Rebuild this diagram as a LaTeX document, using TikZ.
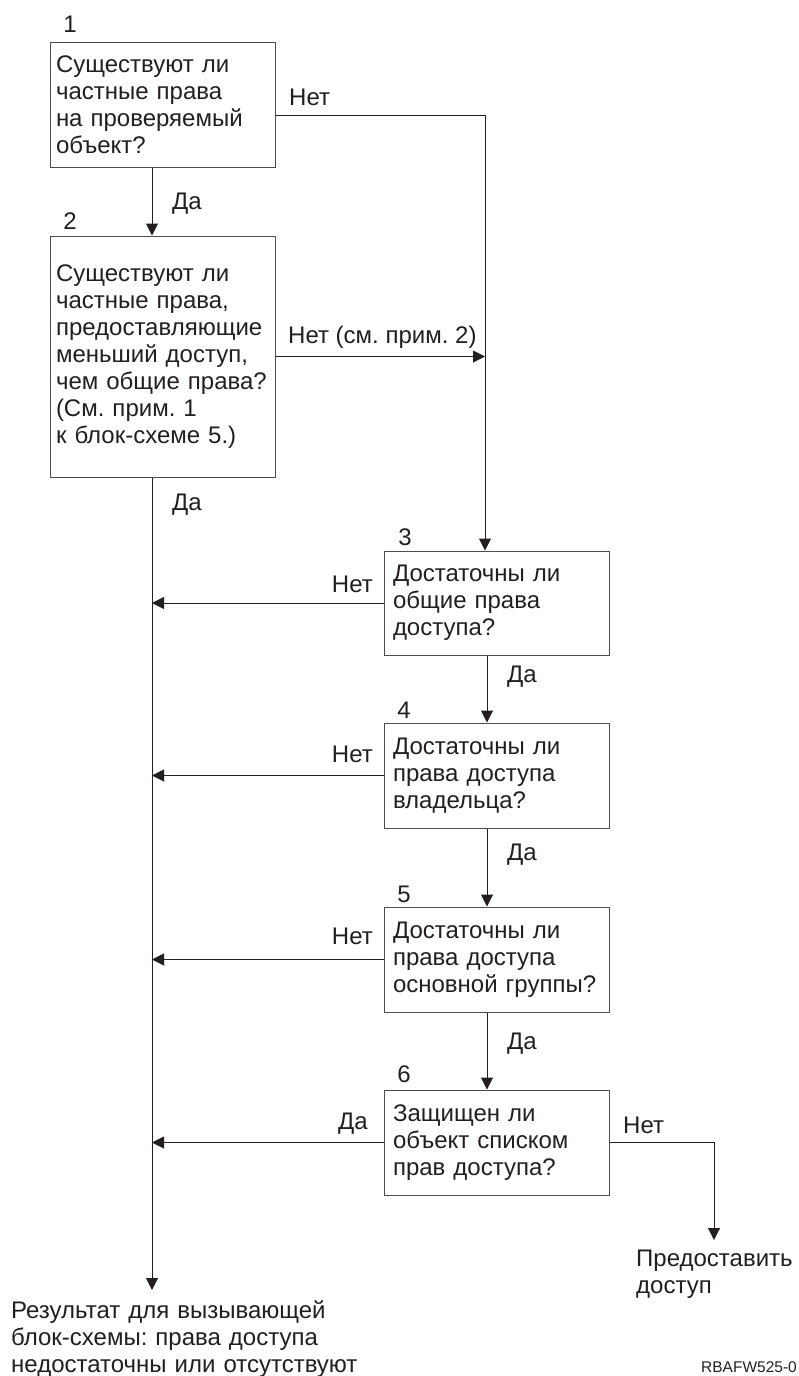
\documentclass[tikz,border=0pt]{standalone}
\usepackage{fontspec}
\setmainfont{Liberation Sans}
\usetikzlibrary{arrows.meta}
\definecolor{ink}{RGB}{35,31,32}
\frenchspacing
\begin{document}
\begin{tikzpicture}[x=1pt,y=-1pt,
  every node/.style={text=ink},
  txt/.style={font=\frenchspacing\fontsize{24}{27}\selectfont},
  box/.style={draw=ink!80, line width=1pt, rectangle, txt, align=left,
    inner ysep=0pt, inner xsep=6pt, minimum width=225pt, text width=213pt},
  boxb/.style={box, inner xsep=9pt, text width=207pt},
  lbl/.style={txt, inner sep=0pt},
  ln/.style={draw=ink, line width=1pt},
  arr/.style={ln, -{Triangle[length=12pt,width=12pt]}}]
\fill[white] (0,0) rectangle (799,1376);
\useasboundingbox (0,0) rectangle (799,1376);

% boxes
\node[box, minimum height=125pt] (b1) at (162.5,104.5) {Существуют~ли\\частные~права\\на~проверяемый\\объект?};
\node[box, minimum height=241pt] (b2) at (162.5,356.5) {Существуют~ли\\частные~права,\\предоставляющие\\меньший~доступ,\\чем~общие~права?\\(См.~прим.~1\\к~блок-схеме~5.)};
\node[boxb, minimum height=104pt] (b3) at (496.5,603) {Достаточны~ли\\общие~права\\доступа?};
\node[boxb, minimum height=105pt] (b4) at (496.5,775.5) {Достаточны~ли\\права~доступа\\владельца?};
\node[boxb, minimum height=105pt] (b5) at (496.5,959.5) {Достаточны~ли\\права~доступа\\основной~группы?};
\node[boxb, minimum height=105pt] (b6) at (496.5,1142.5) {Защищен~ли\\объект~списком\\прав~доступа?};

% helper coordinates
\coordinate (mx) at (152,0);
\coordinate (rx) at (485,115);
\coordinate (cx) at (487,0);
\coordinate (endL) at (152,1290);
\coordinate (g) at (714,1240);

% connectors
\draw[arr] (b1.south -| mx) -- (b2.north -| mx);
\draw[arr] (b1.east |- rx) -- (rx) -- (b3.north -| rx);
\draw[arr] (b2.east) -- (b2.east -| rx);
\draw[arr] (b2.south -| mx) -- (endL);
\draw[arr] (b3.west) -- (b3.west -| mx);
\draw[arr] (b4.west) -- (b4.west -| mx);
\draw[arr] (b5.west) -- (b5.west -| mx);
\draw[arr] (b6.west) -- (b6.west -| mx);
\draw[arr] (b3.south -| cx) -- (b4.north -| cx);
\draw[arr] (b4.south -| cx) -- (b5.north -| cx);
\draw[arr] (b5.south -| cx) -- (b6.north -| cx);
\draw[arr] (b6.east) -- (b6.east -| g) -- (g);

% step numbers
\node[lbl] (n1) at (70,24) {1};
\node[lbl] (n2) at (70,221) {2};
\node[lbl] (n3) at (405,537) {3};
\node[lbl] (n4) at (404,710) {4};
\node[lbl] (n5) at (404,894) {5};
\node[lbl] (n6) at (404,1074) {6};

% branch labels
\node[lbl, anchor=base west] (l1) at (289,105) {Нет};
\node[lbl, anchor=base west] (l2) at (172,209) {Да};
\node[lbl, anchor=base west] (l3) at (288,343) {Нет (см. прим. 2)};
\node[lbl, anchor=base west] (l4) at (172,510) {Да};
\node[lbl, anchor=base east] (l5) at (373,592) {Нет};
\node[lbl, anchor=base east] (l6) at (373,762) {Нет};
\node[lbl, anchor=base east] (l7) at (373,944) {Нет};
\node[lbl, anchor=base east] (l8) at (368,1129) {Да};
\node[lbl, anchor=base west] (l9) at (507,682) {Да};
\node[lbl, anchor=base west] (l10) at (507,860) {Да};
\node[lbl, anchor=base west] (l11) at (507,1049) {Да};
\node[lbl, anchor=base west] (l12) at (623,1133) {Нет};

% outcomes
\node[lbl, anchor=base west, align=left, text width=170pt] (grant) at (636,1266) {Предоставить\\доступ};
\node[lbl, anchor=base west, align=left, text width=400pt] (res) at (11,1318) {Результат для вызывающей\\блок-схемы: права доступа\\недостаточны или отсутствуют};
\node[lbl, anchor=base east, font=\fontsize{15.5}{17}\selectfont] (ref) at (797,1372) {RBAFW525-0};
\end{tikzpicture}
\end{document}
